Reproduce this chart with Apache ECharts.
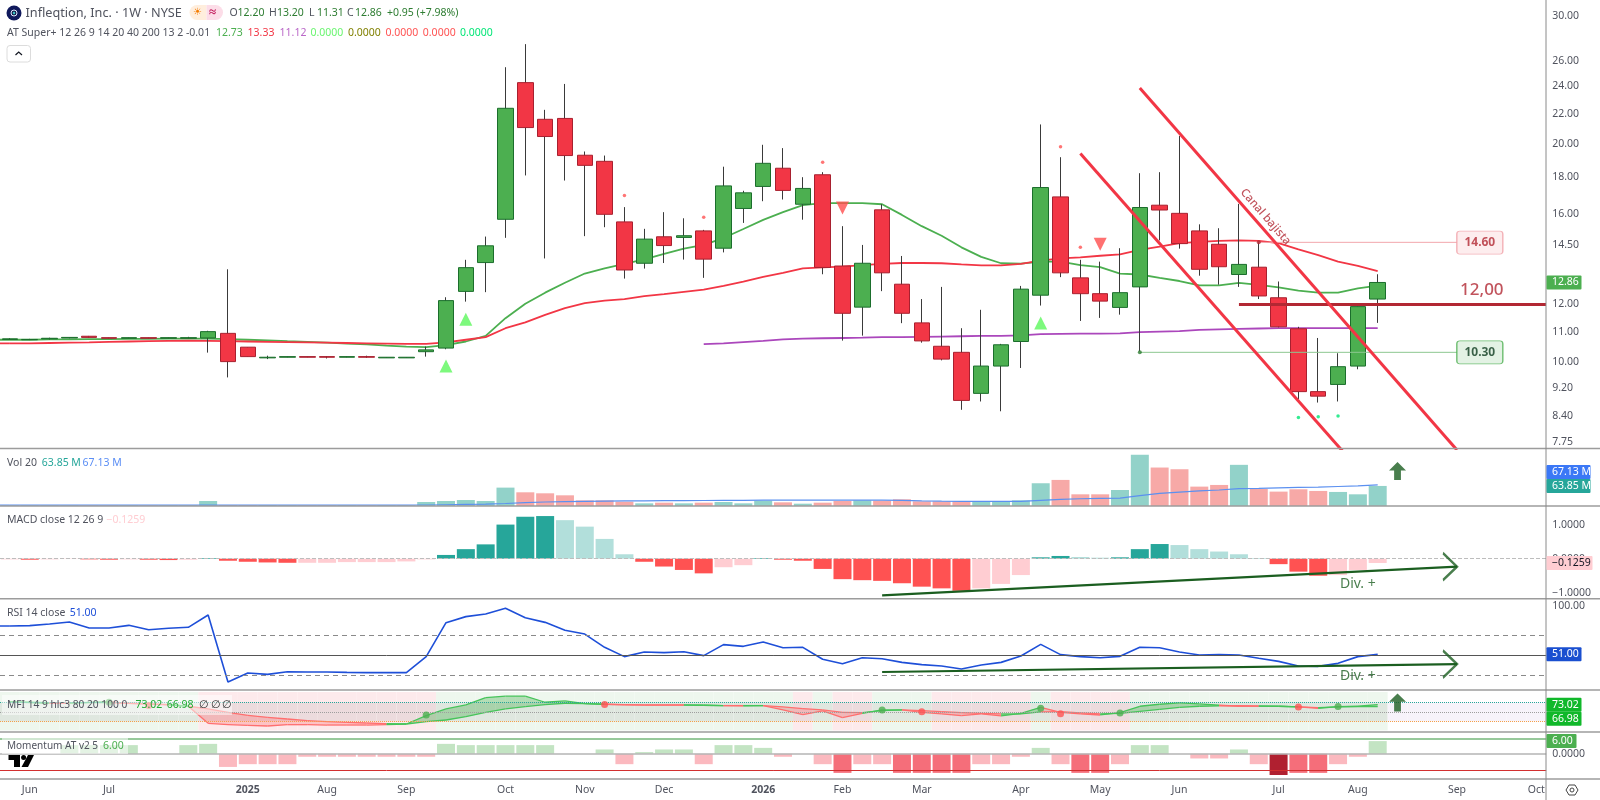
<!DOCTYPE html>
<html><head><meta charset="utf-8">
<style>html,body{margin:0;padding:0;background:#fff}#c{width:1600px;height:800px}</style>
<script src="https://cdn.jsdelivr.net/npm/echarts@6/dist/echarts.min.js"></script>
</head><body><div id="c"></div>
<script>
const opens=[10.73,10.72,10.75,10.78,10.84,10.79,10.77,10.79,10.77,10.77,10.78,10.94,10.47,10.12,10.14,10.16,10.16,10.14,10.16,10.12,10.12,10.32,10.44,12.50,13.70,15.72,24.27,21.60,21.66,19.27,18.90,15.59,13.67,14.87,14.84,15.15,14.34,16.27,17.45,18.49,16.49,18.11,13.55,11.89,16.20,12.79,11.31,10.50,10.30,9.04,9.86,10.66,12.35,16.88,13.05,12.41,11.88,12.68,16.44,16.02,15.15,14.52,13.19,13.50,12.25,11.10,9.09,9.30,9.86,12.20];
const closes=[10.75,10.73,10.77,10.80,10.80,10.77,10.79,10.77,10.79,10.79,11.00,10.00,10.16,10.14,10.16,10.14,10.14,10.16,10.14,10.14,10.14,10.38,12.14,13.48,14.45,22.37,21.04,20.45,19.25,18.66,15.97,13.38,14.76,14.46,14.92,13.85,17.48,17.10,18.78,17.23,17.34,13.49,11.66,13.67,13.26,11.66,10.68,10.08,8.84,9.86,10.55,12.59,17.39,13.26,12.41,12.12,12.45,16.32,16.19,14.55,13.41,13.52,13.62,12.32,11.17,9.09,8.96,9.84,11.91,12.86];
const lows=[10.71,10.71,10.73,10.77,10.79,10.77,10.77,10.77,10.77,10.77,10.29,9.51,10.16,10.08,10.14,10.14,10.10,10.14,10.12,10.12,10.12,10.16,10.40,12.10,12.47,14.82,18.07,13.88,17.78,14.90,15.33,13.02,13.44,13.68,13.83,13.05,14.15,15.54,16.65,16.74,15.70,13.20,10.69,10.86,12.51,11.30,10.62,10.04,8.58,8.81,8.54,9.80,11.95,13.08,11.38,11.49,11.61,10.33,14.70,14.32,13.14,12.77,12.68,12.20,11.15,8.88,8.78,8.81,9.76,11.31];
const highs=[10.77,10.75,10.79,10.81,10.85,10.79,10.79,10.79,10.79,10.82,11.03,13.41,10.47,10.19,10.16,10.16,10.17,10.16,10.19,10.14,10.14,10.49,12.27,13.82,14.88,25.49,27.43,22.26,24.17,19.50,19.25,16.34,15.25,16.08,15.77,15.20,18.58,17.21,19.92,19.71,17.97,18.26,15.38,14.49,16.49,13.99,12.20,12.68,11.12,11.79,10.58,12.72,21.25,19.15,13.82,13.74,14.34,18.20,18.26,20.48,15.47,15.28,16.51,14.61,12.90,11.17,10.78,10.27,11.91,13.20];
const maGreen=[10.72,10.72,10.73,10.73,10.74,10.74,10.75,10.75,10.76,10.76,10.76,10.74,10.72,10.70,10.67,10.65,10.62,10.59,10.56,10.52,10.49,10.47,10.54,10.66,10.85,11.48,12.02,12.45,12.85,13.23,13.45,13.64,13.84,14.08,14.32,14.49,14.81,15.24,15.69,16.08,16.44,16.55,16.55,16.55,16.49,15.94,15.38,14.92,14.38,13.95,13.67,13.65,13.74,13.74,13.59,13.50,13.23,13.19,13.05,12.92,12.74,12.74,12.84,12.76,12.66,12.53,12.45,12.45,12.62,12.73];
const maRed=[10.60,10.60,10.61,10.62,10.63,10.65,10.66,10.67,10.68,10.69,10.68,10.67,10.66,10.65,10.64,10.63,10.62,10.61,10.60,10.59,10.58,10.58,10.63,10.72,10.81,11.12,11.33,11.60,11.85,12.04,12.14,12.20,12.31,12.39,12.48,12.57,12.72,12.89,13.09,13.26,13.45,13.49,13.52,13.59,13.64,13.68,13.68,13.67,13.62,13.58,13.58,13.64,13.78,13.88,13.93,14.00,14.06,14.26,14.41,14.57,14.63,14.68,14.70,14.68,14.57,14.29,14.03,13.74,13.56,13.33];
const purpleStart=35;
const maPurple=[10.57,10.60,10.64,10.68,10.73,10.76,10.77,10.78,10.79,10.81,10.81,10.82,10.83,10.84,10.85,10.85,10.87,10.91,10.92,10.93,10.93,10.94,10.98,11.00,11.02,11.06,11.08,11.10,11.11,11.12,11.12,11.12,11.12,11.12,11.12];
const volume=[2,2,2,2,2,2,2,2,2,2,16,3,3,3,2,2,2,2,2,2,2,12.8,16,19,16,58.5,43.6,40.4,34,18,18,13.8,8.5,10.6,8.5,10.6,12.8,8.5,17,11.7,7.4,10.6,16,18,17,21.3,14.9,14.9,14.9,13.8,12.8,18,72.4,83,37.2,37.2,51,162.8,122.4,117,61.7,67,131,54.3,45.8,53.2,47.9,44.7,37.2,63.85];
const volMA=[3,3,3,3,3,3,3,3,3,3,3,3,3,3,3,3,3,3,3,3,3,3.2,4,5,6,8,10.6,12.8,13.8,14.9,15.5,16,16.5,17,17,17.5,18,18,18.5,18.5,18.5,18.5,18.5,19,19,18,16.5,15.5,15,15,14.5,15,18,21,23,24,25,33,40,44,48,51,55,56,58,59,60,62,64,67.13];
const macdHist=[-0.02,-0.03,-0.02,-0.01,-0.02,-0.03,-0.02,-0.03,-0.04,-0.03,0.02,-0.06,-0.09,-0.11,-0.12,-0.12,-0.12,-0.10,-0.10,-0.10,-0.08,-0.02,0.11,0.28,0.42,1.00,1.23,1.25,1.13,0.94,0.58,0.13,-0.09,-0.23,-0.33,-0.43,-0.25,-0.19,0.02,-0.03,-0.06,-0.30,-0.60,-0.63,-0.65,-0.72,-0.82,-0.87,-0.94,-0.87,-0.74,-0.48,0.04,0.08,0.05,0.03,0.04,0.28,0.43,0.40,0.28,0.21,0.13,0.02,-0.16,-0.38,-0.50,-0.48,-0.33,-0.1259];
const rsi=[79.6,80.0,81.6,83.7,77.6,77.6,80.3,75.9,77.3,78.3,90.7,23.1,32.2,30.8,33.5,33.2,33.2,32.8,32.5,32.5,32.5,48.7,83.0,89.1,91.8,97.5,88.0,83.3,75.3,71.5,58.1,48.7,53.4,52.7,53.7,49.7,60.8,59.1,63.5,57.7,58.1,46.0,41.6,47.6,46.6,42.9,40.6,39.2,36.2,40.2,42.9,49.3,61.1,50.7,48.7,47.6,49.0,58.1,57.7,53.4,50.3,50.7,50.3,47.0,43.9,39.2,38.9,41.9,48.7,51.0];
const mfiFast=[82.6,80.5,79,78,80,82,77,75,72,68,14.2,10,7.9,5.8,10,10,8.9,8.9,8.9,10,12.1,38.4,59.5,72.1,95.3,99.5,100,80.5,84.7,76.3,74.2,72,71.5,71.5,71.5,71.1,70,68.9,70,56.3,41.6,53.2,32.1,45.8,56.3,56.3,48.9,43.7,38.4,43.7,37.4,45.8,64.7,48.9,43.7,40.5,47.9,67.9,74.2,78.4,75.3,71.1,67.9,67.9,67.9,65.8,61.6,66.8,67.9,73.02];
const mfiSlow=[81.6,79.5,77.4,78.4,79.5,79.5,77.4,75.3,73.2,67.9,59.5,48.9,39.5,33.2,27.9,22.6,19.5,17.4,15.3,13.2,12.1,19.5,24.7,35.3,48.9,59.5,66.8,73.2,77.4,76.3,74.2,73.2,72.1,72.1,72.1,71.1,70,70,70,65.8,60.5,56.3,48.9,47.9,54.2,56.3,54.2,51.1,47.9,45.8,43.7,43.7,50,51.1,46.8,43.7,45.8,52.1,58.4,64.7,67.9,68.9,69.5,68.9,67.9,65.8,63.7,65.8,66.8,66.98];
const mfiZone=[1,1,1,1,1,1,1,1,1,1,-1,-1,-1,-1,-1,-1,-1,-1,-1,-1,-1,-1,1,1,1,1,1,1,1,1,1,1,1,1,1,1,1,1,1,1,-1,1,-1,-1,1,1,1,-1,-1,-1,-1,-1,1,-1,-1,-1,-1,1,1,1,1,1,1,1,1,1,1,1,1,1];
const mfiDotsUp=[[5,80.5],[21,40.5],[44,56.3],[52,61.6],[56,46.8],[67,66.8]];
const mfiDotsDown=[[7,70],[30,73.2],[46,51],[53,44.7],[65,65.8]];
const momentum=[0,0,0,4.1,4.1,4.1,4.1,0,0,4.1,4.7,-6.2,-4.9,-4.9,-4.9,-1.4,-1.4,-1.4,-1.4,-1.4,-1.4,-1.4,4.7,4.1,4.1,4.1,4.1,4.1,0,0,2.05,-4.9,0.8,2.05,2.05,-4.9,4.1,4.1,2.8,-1.4,0,-4.9,-9,-4.9,-4.9,-9,-9,-9,-9,-4.9,-4.9,-1.4,2.8,-4.9,-9,-9,-4.9,4.1,4.1,0,-2.2,-2.2,2.05,-4.9,-10,-9,-9,-4.9,-1.4,6];
const xLabels=['','Jun','','','','Jul','','','','','','','2025','','','','Aug','','','','Sep','','','','','Oct','','','','Nov','','','','Dec','','','','','2026','','','','Feb','','','','Mar','','','','','Apr','','','','May','','','','Jun','','','','','Jul','','','','Aug','','','','','Sep','','','','Oct'];
const priceTicks=[30,26,24,22,20,18,16,14.5,12,11,10,9.2,8.4,7.75];
const triUp=[[22,9.86],[23,11.44],[52,11.31]];
const triDown=[[42,16.30],[55,14.52]];
const dotsRed=[[31,16.95],[35,15.82],[41,18.85],[53,19.8],[54,14.38]];
const dotsGreen=[[65,8.37],[66,8.39],[67,8.41]];
const channelUpper=[[57,23.86],[73,7.55]];
const channelLower=[[54,19.37],[68,7.12]];
const resistance=14.61, support=10.30, level=12;
const divMacd=[[44,-1.073],[73,-0.235]];
const divRsi=[[44,33.2],[73,41.2]];

const N=78, GL=-2.2, GW=1548.4;
const UP='#4caf50',DN='#f23645',UPB='#1b6e2c',DNB='#a8202f',WICK='#3a3a3a',DG='#1b5e20',DR='#b22833';
const FONT='"Noto Sans"';
const panes=[[0,448.5],[448.5,506],[506,598.7],[598.7,690],[690,732],[732,779]];
const cats=xLabels.map((s,i)=>s||('w'+i));
const idx=a=>a.map((v,i)=>[i,v]);
const grid=panes.map(p=>({left:GL,width:GW,top:p[0],height:p[1]-p[0]}));
const xAxis=panes.map((p,k)=>({gridIndex:k,type:'category',data:cats,boundaryGap:true,
  axisLine:{show:false},axisTick:{show:false},splitLine:{show:false},
  axisLabel:k===5?{show:true,interval:i=>!!xLabels[i],margin:6,color:'#50535e',
    fontFamily:FONT,fontSize:10.5,hideOverlap:false,formatter:(v)=>{return /^\d{4}$/.test(v)?'{b|'+v+'}':(v[0]==='w'?'':v)},
    rich:{b:{fontFamily:FONT,fontSize:10.5,fontWeight:'bold',color:'#50535e'}}}:{show:false}}));
const lab={color:'#50535e',fontFamily:FONT,fontSize:10.5,margin:6};
const mkY=(k,min,max,vals,fmt,type)=>({gridIndex:k,type:type||'value',position:'right',min,max,scale:false,
  axisLine:{show:false},axisTick:{show:false},splitLine:{show:false},
  axisLabel:vals?Object.assign({show:true,customValues:vals,formatter:fmt},lab):{show:false}});
const yAxis=[
 mkY(0,7.587,31.56,priceTicks,v=>(+v).toFixed(2),'log'),
 mkY(1,0,183,null),
 mkY(2,-1.173,1.545,[1,0,-1],v=>(+v===0?'0.0000':(+v<0?'−':'')+Math.abs(+v).toFixed(4))),
 mkY(3,15,107.2,[100],v=>(+v).toFixed(2)),
 mkY(4,-13,119,null),
 mkY(5,-11.9,10.3,[0],v=>(+v).toFixed(4))];

const hline=(val,color,type,width)=>({silent:true,symbol:'none',animation:false,label:{show:false},
  lineStyle:{color,type,width},data:[{yAxis:val}]});
const isUp=i=>closes[i]>=opens[i];
const macdColor=i=>{const v=macdHist[i],p=i?macdHist[i-1]:v;return v>=0?(v>p?'#26a69a':'#b2dfdb'):(v<p?'#ff5252':'#ffcdd2')};
const momColor=v=>v>0?'#c3e4c3':v<=-9.5?'#b02030':v<=-8?'#f56e7a':'#fbb9bf';
const CHEV='path://M0,0 L10,13 L0,26';
const ARROW='path://M5,0 L10,6 L7,6 L7,13 L3,13 L3,6 L0,6 Z';
const RBOX='path://M3,0 H43 Q46,0 46,3 V20 Q46,23 43,23 H3 Q0,23 0,20 V3 Q0,0 3,0 Z';

function text(i,y,str,color,size,extra,g){return {type:'scatter',xAxisIndex:g||0,yAxisIndex:g||0,z:9,silent:true,symbol:'circle',symbolSize:1,
  itemStyle:{color:'transparent'},data:[[i,y]],label:{show:true,position:'inside',formatter:str,color,fontSize:size,fontFamily:FONT,...(extra||{})}}}
function box(i,y,str,fill,border,color){return {type:'scatter',xAxisIndex:0,yAxisIndex:0,z:9,silent:true,symbol:RBOX,symbolSize:[46,23],symbolOffset:[3,0],
  itemStyle:{color:fill,borderColor:border,borderWidth:1},data:[[i,y]],
  label:{show:true,position:'inside',formatter:str,color,fontSize:12,fontWeight:'bold',fontFamily:FONT}}}
function seg(pts,color,width,g,z){return {type:'line',xAxisIndex:g||0,yAxisIndex:g||0,data:pts,symbol:'none',silent:true,z:z||8,clip:true,lineStyle:{color,width}}}
function ln(data,color,width,g,z){return {type:'line',xAxisIndex:g||0,yAxisIndex:g||0,data,symbol:'none',silent:true,z:z||1,lineStyle:{color,width}}}
function pts(data,symbol,size,color,g,z,offset){return {type:'scatter',xAxisIndex:g||0,yAxisIndex:g||0,data,symbol,symbolSize:size,silent:true,z:z||5,symbolOffset:offset||[0,0],itemStyle:{color}}}
function chev(pt,g){return {type:'scatter',xAxisIndex:g,yAxisIndex:g,data:[pt],symbol:CHEV,symbolSize:[14,27],symbolOffset:[-7,0],silent:true,z:8,
  itemStyle:{color:'rgba(0,0,0,0)',borderColor:DG,borderWidth:2.2}}}

const mfiBg={type:'custom',xAxisIndex:4,yAxisIndex:4,z:0,silent:true,clip:true,
  data:cats.map((c,i)=>[i]),
  renderItem(params,api){const i=api.value(0),w=api.size([1,0])[0],c=api.coord([i,50]),cs=params.coordSys;
    const y80=api.coord([i,80])[1],y20=api.coord([i,20])[1],x=c[0]-w/2,kids=[];
    if(i<mfiZone.length){
      kids.push({type:'rect',shape:{x,y:cs.y+2,width:w,height:cs.height-3.5},style:{fill:mfiZone[i]>0?'#eef7ee':'#fdeaec'}});
      kids.push({type:'rect',shape:{x,y:y80,width:w,height:y20-y80},style:{fill:'rgba(120,120,120,0.13)'}});
    } else kids.push({type:'rect',shape:{x,y:y80,width:w+(i===N-1?2:0),height:y20-y80},style:{fill:'#f7f3fa'}});
    return {type:'group',children:kids};}};
const mfiLines={type:'custom',xAxisIndex:4,yAxisIndex:4,z:3,silent:true,clip:true,
  data:mfiFast.slice(0,-1).map((v,i)=>[i]),
  renderItem(params,api){const i=api.value(0);
    const a=api.coord([i,mfiFast[i]]),b=api.coord([i+1,mfiFast[i+1]]),c=api.coord([i+1,mfiSlow[i+1]]),d=api.coord([i,mfiSlow[i]]);
    const up=mfiFast[i+1]>=mfiSlow[i+1];
    const st=up?'#46c45a':'#ff6f6f',fl=up?'rgba(76,175,80,0.36)':'rgba(255,82,82,0.26)';
    return {type:'group',children:[
      {type:'polygon',shape:{points:[a,b,c,d]},style:{fill:fl}},
      {type:'line',shape:{x1:a[0],y1:a[1],x2:b[0],y2:b[1]},style:{stroke:st,lineWidth:1.3}},
      {type:'line',shape:{x1:d[0],y1:d[1],x2:c[0],y2:c[1]},style:{stroke:st,lineWidth:1.3}}]};}};

const series=[
 ln(idx(maGreen),UP,1.8,0,1),
 ln(idx(maRed),DN,1.8,0,1),
 ln(maPurple.map((v,i)=>[i+purpleStart,v]),'#ab47bc',1.8,0,1),
 ln([[-1,maGreen[0]],[0,maGreen[0]]],UP,1.8,0,1),
 ln([[-1,maRed[0]],[0,maRed[0]]],DN,1.8,0,1),
 {type:'candlestick',xAxisIndex:0,yAxisIndex:0,z:2,silent:true,barWidth:1,
  data:opens.map((o,i)=>[o,closes[i],lows[i],highs[i]]),
  itemStyle:{color:WICK,color0:WICK,borderColor:WICK,borderColor0:WICK,borderWidth:1}},
 {type:'candlestick',xAxisIndex:0,yAxisIndex:0,z:3,silent:true,barWidth:16,
  data:opens.map((o,i)=>[o,closes[i],Math.min(o,closes[i]),Math.max(o,closes[i])]),
  itemStyle:{color:UP,color0:DN,borderColor:UPB,borderColor0:DNB,borderWidth:1}},
 pts(triUp,'triangle',[13,13],'#5cf75c'),
 pts(triDown,'path://M0,0 L10,0 L5,10 Z',[13,13],'#ff4d4d'),
 pts(dotsRed,'circle',3.5,'#ff5252'),
 pts(dotsGreen,'circle',3.5,'#00e676'),
 pts([[57,support]],'circle',4,'#2e7d32',0,6),
 pts([[63,resistance]],'circle',4,DR,0,6),
 seg([[63,resistance],[73,resistance]],'#f2a6ad',1,0,4),
 seg([[57,support],[73,support]],'#8cc790',1,0,4),
 seg(channelUpper,DN,3),
 seg(channelLower,DN,3),
 {type:'line',xAxisIndex:0,yAxisIndex:0,data:[],silent:true,z:7,
  markLine:{silent:true,symbol:'none',animation:false,label:{show:false},lineStyle:{color:DR,width:3,type:'solid'},
   data:[[{xAxis:62,yAxis:level},{x:1546,yAxis:level}]]}},
 box(74,14.6,'14.60','#fde8ea','#f0a0a8',DR),
 box(74,support,'10.30','#dcefdd','#4caf50','#0d3b1e'),
 text(74,12.55,'12,00',DR,17,{offset:[5,0],fontWeight:500}),
 text(63,15.55,'Canal bajista',DR,11.5,{rotate:-49,offset:[0,-9],fontWeight:500}),
 // volume
 {type:'bar',xAxisIndex:1,yAxisIndex:1,barWidth:18,silent:true,z:2,
  data:volume.map((v,i)=>({value:v,itemStyle:{color:isUp(i)?'#92d2c9':'#f7a9a7'}}))},
 ln(idx(volMA),'#5b90f0',1.2,1,3),
 ln([[-1,volMA[0]],[0,volMA[0]]],'#5b90f0',1.2,1,3),
 pts([[70,111]],ARROW,[17,18],DG,1,5),
 // macd
 {type:'bar',xAxisIndex:2,yAxisIndex:2,barWidth:18,silent:true,z:2,
  data:macdHist.map((v,i)=>({value:v,itemStyle:{color:macdColor(i)}})),
  markLine:hline(0,'#bdbdbd','dashed',1)},
 seg(divMacd,DG,2.2,2),chev(divMacd[1],2),
 text(68,-0.73,'Div. +',DG,14,{},2),
 // rsi
 {type:'line',xAxisIndex:3,yAxisIndex:3,data:idx(rsi),symbol:'none',silent:true,z:3,lineStyle:{color:'#1e4fd8',width:1.6},
  markLine:{silent:true,symbol:'none',animation:false,label:{show:false},
   data:[{yAxis:70,lineStyle:{color:'#8a8a8a',type:[5,4],width:1}},{yAxis:30,lineStyle:{color:'#8a8a8a',type:[5,4],width:1}},{yAxis:50,lineStyle:{color:'#555',type:'solid',width:1}}]}},
 ln([[-1,rsi[0]],[0,rsi[0]]],'#1e4fd8',1.6,3,3),
 seg(divRsi,DG,2.2,3),chev(divRsi[1],3),
 text(68,29,'Div. +',DG,14,{},3),
 // mfi
 mfiBg,mfiLines,
 {type:'line',xAxisIndex:4,yAxisIndex:4,data:[],silent:true,z:2,
  markLine:{silent:true,symbol:'none',animation:false,label:{show:false},
   data:[{yAxis:80,lineStyle:{color:'#26a69a',type:'dotted',width:1}},{yAxis:50,lineStyle:{color:'#9e9e9e',type:'dotted',width:1}},{yAxis:20,lineStyle:{color:'#f5a04a',type:'dotted',width:1}}]}},
 pts(mfiDotsUp,'circle',7,'#4caf50',4,5),
 pts(mfiDotsDown,'circle',7,'#ff5252',4,5),
 pts([[70,80]],ARROW,[17,18],DG,4,6),
 // momentum
 {type:'bar',xAxisIndex:5,yAxisIndex:5,barWidth:18,silent:true,z:2,
  data:momentum.map(v=>({value:v,itemStyle:{color:momColor(v)}})),
  markLine:{silent:true,symbol:'none',animation:false,label:{show:false},
   data:[{yAxis:0,lineStyle:{color:'#b4b4b4',type:'solid',width:1.5}},{yAxis:7.27,lineStyle:{color:'#74b77a',type:'solid',width:1.5}},{yAxis:-8,lineStyle:{color:'#d32f2f',type:'solid',width:1}}]}}
];

const chart=echarts.init(document.getElementById('c'),null,{renderer:'canvas'});
chart.setOption({animation:false,backgroundColor:'#fff',grid,xAxis,yAxis,series});

const G=[];
const T=(x,y,str,fill,size,weight,z)=>G.push({type:'text',x,y,z:z||50,style:{text:str,fill,font:(weight||'normal')+' '+(size||10.5)+'px '+FONT,verticalAlign:'middle',align:'left'}});
const R=(x,y,w,h,fill,r,stroke)=>G.push({type:'rect',z:49,shape:{x,y,width:w,height:h,r:r||0},style:{fill,stroke:stroke||null,lineWidth:1}});
const L=(x1,y1,x2,y2,stroke,w)=>G.push({type:'line',z:45,shape:{x1,y1,x2,y2},style:{stroke,lineWidth:w||1}});
panes.forEach(p=>L(0,p[1],1600,p[1],'#9c9c9c',1.5));
L(1546,0,1546,800,'#8a8a8a',1);
// header
G.push({type:'circle',z:49,shape:{cx:14,cy:13,r:7.5},style:{fill:'#10195c'}});
G.push({type:'circle',z:50,shape:{cx:14,cy:13,r:3},style:{fill:'#16224f',stroke:'#dfe8ff',lineWidth:1}});
G.push({type:'circle',z:51,shape:{cx:14,cy:13,r:1.2},style:{fill:'#39c6c6'}});
T(25.5,13,'Infleqtion, Inc. · 1W · NYSE','#50535e',12.7);
G.push({type:'rect',z:49,shape:{x:189.5,y:5,width:17,height:15,r:[7.5,0,0,7.5]},style:{fill:'#ffeedd'}});
G.push({type:'rect',z:49,shape:{x:206.5,y:5,width:16.5,height:15,r:[0,7.5,7.5,0]},style:{fill:'#fcdde8'}});
T(193,12.5,'☀','#f57c00',10);
T(209,12.5,'≈','#c2185b',13,'bold');
[[229.6,'O','12.20'],[269,'H','13.20'],[309,'L','11.31'],[347,'C','12.86']].forEach(a=>{T(a[0],13,a[1],'#50535e',10.5);T(a[0]+8,13,a[2],'#2e7d32',10.5)});
T(387,13,'+0.95 (+7.98%)','#2e7d32',10.5);
T(7,33,'AT Super+ 12 26 9 14 20 40 200 13 2 -0.01','#50535e',10.5);
[[216,'12.73','#4caf50'],[247.6,'13.33','#f23645'],[279.6,'11.12','#ba68c8'],[310.5,'0.0000','#69f56f'],[348,'0.0000','#808000'],[385.4,'0.0000','#ff5252'],[422.8,'0.0000','#ff5252'],[460,'0.0000','#00e676']].forEach(a=>T(a[0],33,a[1],a[2],10.5));
R(7,45.5,23.5,16.5,'#fff',3,'#dcdcdc');
G.push({type:'polyline',z:50,shape:{points:[[15.5,55],[18.7,52],[22,55]]},style:{stroke:'#131722',fill:null,lineWidth:1.2}});
// pane legends
T(7,463,'Vol 20','#50535e',10.5);T(41.8,463,'63.85 M','#26a69a',10.5);T(82.6,463,'67.13 M','#5b8ef5',10.5);
T(7,520.3,'MACD close 12 26 9','#50535e',10.5);T(106.5,520.3,'−0.1259','#ffcdd2',10.5);
T(7,613,'RSI 14 close','#50535e',10.5);T(69.7,613,'51.00','#1e4fd8',10.5);
R(2,695,230,20,'rgba(255,255,255,0.5)');
T(7,704.7,'MFI 14 9 hlc3 80 20 100 0','#50535e',10.2);T(135.4,704.7,'73.02','#22ab34',10.5);T(166.7,704.7,'66.98','#22ab34',10.5);T(199,704.7,'∅','#333',10.5);T(211,704.7,'∅','#333',10.5);T(222,704.7,'∅','#333',10.5);
R(2,738,126,16,'rgba(255,255,255,0.55)');
T(7,746.3,'Momentum AT v2 5','#50535e',10);T(103,746.3,'6.00','#4caf50',10.5);
// TV logo
G.push({type:'polygon',z:50,shape:{points:[[8.5,755],[20,755],[20,767],[14,767],[14,760],[8.5,760]]},style:{fill:'#000'}});
G.push({type:'circle',z:50,shape:{cx:23.6,cy:757.5,r:2.5},style:{fill:'#000'}});
G.push({type:'polygon',z:50,shape:{points:[[28,755],[34,755],[28,767],[21.5,767]]},style:{fill:'#000'}});
// settings icon
G.push({type:'polygon',z:50,shape:{points:[[1566,790],[1569,785],[1575,785],[1578,790],[1575,795],[1569,795]]},style:{fill:null,stroke:'#444',lineWidth:1}});
G.push({type:'circle',z:50,shape:{cx:1572,cy:790,r:2},style:{fill:null,stroke:'#444',lineWidth:1}});
// price tags
function tag(yPix,str,bg,fg,w){R(1546.5,yPix-7,w,14,bg,1);T(1552,yPix,str,fg,10.5);}
const py=(k,v)=>chart.convertToPixel({yAxisIndex:k},v);
tag(py(0,12.86),'12.86','#4caf50','#fff',35);
tag(py(1,63.85)-14,'67.13 M','#3b78f6','#fff',44);
tag(py(1,63.85),'63.85 M','#26a69a','#fff',44);
tag(py(2,-0.1259),'−0.1259','#ffcdd2','#131722',46);
tag(py(3,51),'51.00','#1a4fd0','#fff',35);
tag(py(4,73.02),'73.02','#10b82a','#fff',35);
tag(py(4,73.02)+14,'66.98','#10b82a','#fff',35);
tag(py(5,6),'6.00','#4caf50','#fff',30);
chart.setOption({graphic:{elements:G}});
</script></body></html>
